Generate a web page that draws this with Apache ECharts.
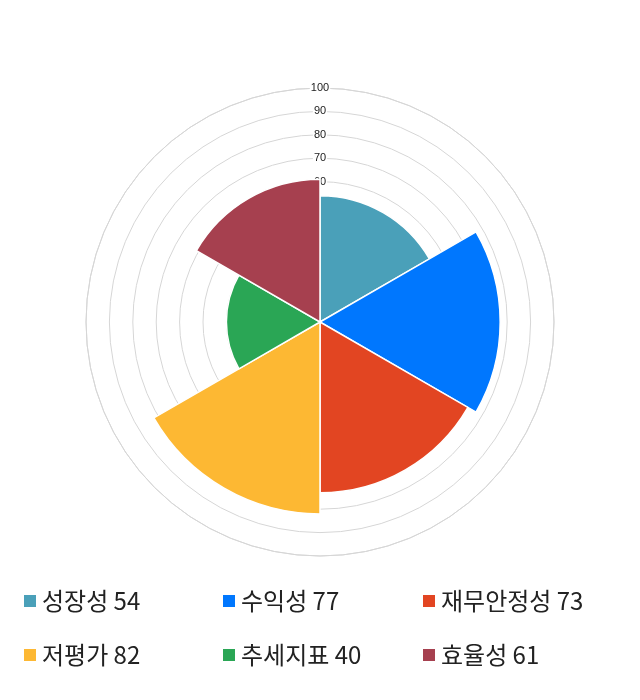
<!DOCTYPE html>
<html><head><meta charset="utf-8">
<script src="https://cdn.jsdelivr.net/npm/echarts@6/dist/echarts.min.js"></script>
<style>html,body{margin:0;padding:0;background:#fff}#c{width:640px;height:700px}</style>
</head><body><div id="c"></div>
<script>
var categories = ['성장성','수익성','재무안정성','저평가','추세지표','효율성'];
var values = [54, 77, 73, 82, 40, 61];
var colors = ['#4aa0b9','#0077fe','#e24522','#fdb833','#2aa655','#a6404f'];
var radiusTicks = [0, 10, 20, 30, 40, 50, 60, 70, 80, 90, 100];

var chart = echarts.init(document.getElementById('c'));
var series = [], legends = [];
var legendLeft = [22, 221, 421], legendTop = [589, 643];
categories.forEach(function (name, i) {
  var d = categories.map(function (c, j) { return j === i ? values[i] : '-'; });
  series.push({
    type: 'bar', coordinateSystem: 'polar', name: name, data: d,
    barGap: '-100%', barCategoryGap: '0%',
    itemStyle: { color: colors[i], borderColor: '#fff', borderWidth: 1.5 },
    emphasis: { disabled: true }, animation: false
  });
  legends.push({
    data: [name], left: legendLeft[i % 3], top: legendTop[Math.floor(i / 3)],
    padding: 0, icon: 'rect', itemWidth: 14, itemHeight: 14, itemGap: 10, selectedMode: false,
    formatter: function (n) { return n + ' ' + values[i]; },
    textStyle: { fontSize: 24, color: '#222', fontFamily: 'Noto Sans CJK KR' }
  });
});

chart.setOption({
  animation: false,
  polar: { center: ['50%', 322], radius: 234 },
  angleAxis: {
    type: 'category', data: categories, startAngle: 90, clockwise: true,
    axisLine: { show: true, lineStyle: { color: '#d6d6d6' } },
    axisTick: { show: false }, axisLabel: { show: false }, splitLine: { show: false }
  },
  radiusAxis: {
    type: 'value', min: radiusTicks[0], max: radiusTicks[radiusTicks.length - 1], interval: 10,
    axisLine: { show: false }, axisTick: { show: false },
    splitLine: { show: true, lineStyle: { color: '#d6d6d6', width: 1 } },
    axisLabel: {
      show: true, fontSize: 11, color: '#222', fontFamily: 'Liberation Sans',
      backgroundColor: '#fff', padding: [0, 1], margin: 0, align: 'center', verticalAlign: 'middle',
      formatter: function (v) { return radiusTicks.indexOf(v) >= 0 ? String(v) : ''; }
    },
    z: 0
  },
  legend: legends,
  series: series
});
</script></body></html>
